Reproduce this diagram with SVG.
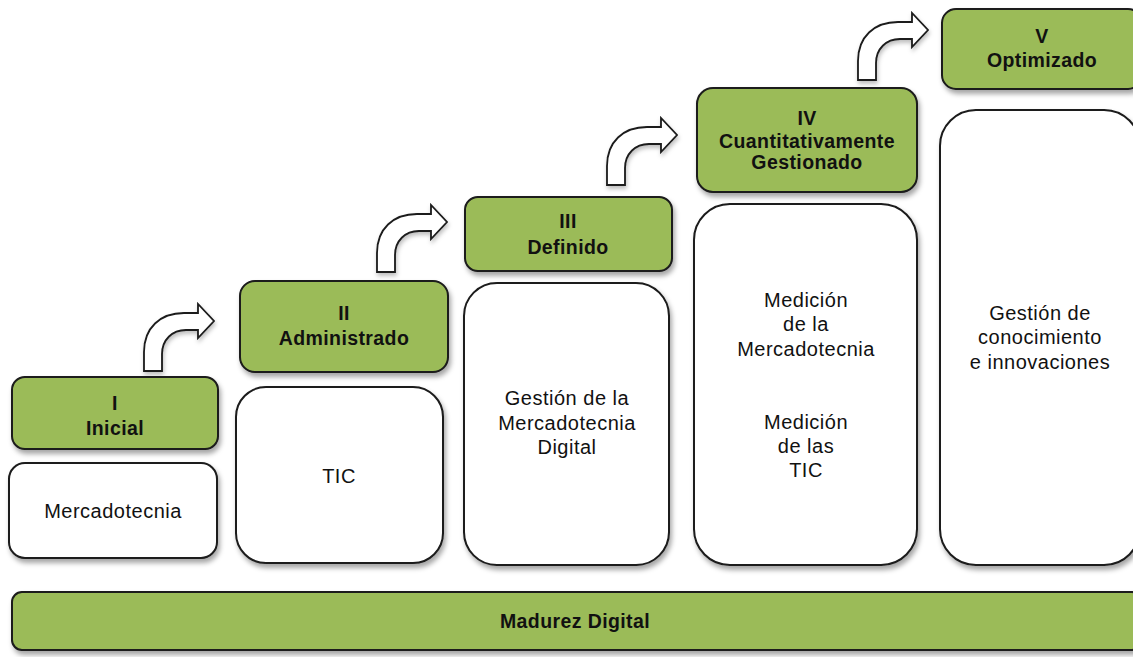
<svg xmlns="http://www.w3.org/2000/svg" width="1133" height="657" viewBox="0 0 1133 657">
<style>
.g{fill:#9bbb59;stroke:#1a1a1a;stroke-width:2;filter:url(#sh)}
.w{fill:#ffffff;stroke:#1a1a1a;stroke-width:2;filter:url(#sh)}
.ar{fill:#ffffff;stroke:#1a1a1a;stroke-width:1.8;stroke-linejoin:miter;filter:url(#sh2)}
.tb{font-family:"Liberation Sans",Arial,sans-serif;font-weight:bold;font-size:19.5px;letter-spacing:0.4px;fill:#111;text-anchor:middle}
.tw{font-family:"Liberation Sans",Arial,sans-serif;font-size:20px;letter-spacing:0.5px;fill:#111;text-anchor:middle}
</style>
<defs>
<filter id="sh" x="-10%" y="-10%" width="130%" height="130%">
<feDropShadow dx="2" dy="4" stdDeviation="2.5" flood-color="#000" flood-opacity="0.35"/>
</filter>
<filter id="sh2" x="-20%" y="-20%" width="150%" height="150%">
<feDropShadow dx="1" dy="3" stdDeviation="2" flood-color="#000" flood-opacity="0.25"/>
</filter>
<path id="arrow" d="M0,0 L0,-19 C0,-43 16,-58 40,-58 L54,-58 L54,-67 L70,-50 L54,-33 L54,-41 L42,-41 C28,-41 18,-31 18,-17 L18,0 Z"/>
</defs>
<rect width="1133" height="657" fill="#ffffff"/>
<g id="connectors">
<use href="#arrow" class="ar" transform="translate(144,371)"/>
<use href="#arrow" class="ar" transform="translate(377,272)"/>
<use href="#arrow" class="ar" transform="translate(607,185)"/>
<use href="#arrow" class="ar" transform="translate(858,80)"/>
</g>
<g id="level1">
<rect class="g" x="12" y="377" width="206" height="72" rx="13"/>
<text class="tb" x="115" y="410">I</text>
<text class="tb" x="115" y="435">Inicial</text>
</g>
<g id="box1">
<rect class="w" x="9" y="463" width="208" height="95" rx="16"/>
<text class="tw" x="113" y="518">Mercadotecnia</text>
</g>
<g id="level2">
<rect class="g" x="240" y="281" width="208" height="91" rx="15"/>
<text class="tb" x="344" y="320">II</text>
<text class="tb" x="344" y="345">Administrado</text>
</g>
<g id="box2">
<rect class="w" x="236" y="387" width="207" height="176" rx="30"/>
<text class="tw" x="339" y="483">TIC</text>
</g>
<g id="level3">
<rect class="g" x="465" y="197" width="207" height="74" rx="13"/>
<text class="tb" x="568" y="228">III</text>
<text class="tb" x="568" y="254">Definido</text>
</g>
<g id="box3">
<rect class="w" x="464" y="283" width="205" height="282" rx="33"/>
<text class="tw" x="567" y="405">Gestión de la</text>
<text class="tw" x="567" y="430">Mercadotecnia</text>
<text class="tw" x="567" y="454">Digital</text>
</g>
<g id="level4">
<rect class="g" x="697" y="88" width="220" height="104" rx="16"/>
<text class="tb" x="807" y="125">IV</text>
<text class="tb" x="807" y="148">Cuantitativamente</text>
<text class="tb" x="807" y="169">Gestionado</text>
</g>
<g id="box4">
<rect class="w" x="694" y="204" width="223" height="361" rx="36"/>
<text class="tw" x="806" y="307">Medición</text>
<text class="tw" x="806" y="331">de la</text>
<text class="tw" x="806" y="356">Mercadotecnia</text>
<text class="tw" x="806" y="429">Medición</text>
<text class="tw" x="806" y="453">de las</text>
<text class="tw" x="806" y="477">TIC</text>
</g>
<g id="level5">
<rect class="g" x="942" y="9" width="200" height="80" rx="14"/>
<text class="tb" x="1042" y="43">V</text>
<text class="tb" x="1042" y="67">Optimizado</text>
</g>
<g id="box5">
<rect class="w" x="940" y="110" width="200" height="455" rx="36"/>
<text class="tw" x="1040" y="320">Gestión de</text>
<text class="tw" x="1040" y="344">conocimiento</text>
<text class="tw" x="1040" y="369">e innovaciones</text>
</g>
<g id="base">
<rect class="g" x="12" y="592" width="1130" height="58" rx="10"/>
<text class="tb" x="575" y="628">Madurez Digital</text>
</g>
</svg>
